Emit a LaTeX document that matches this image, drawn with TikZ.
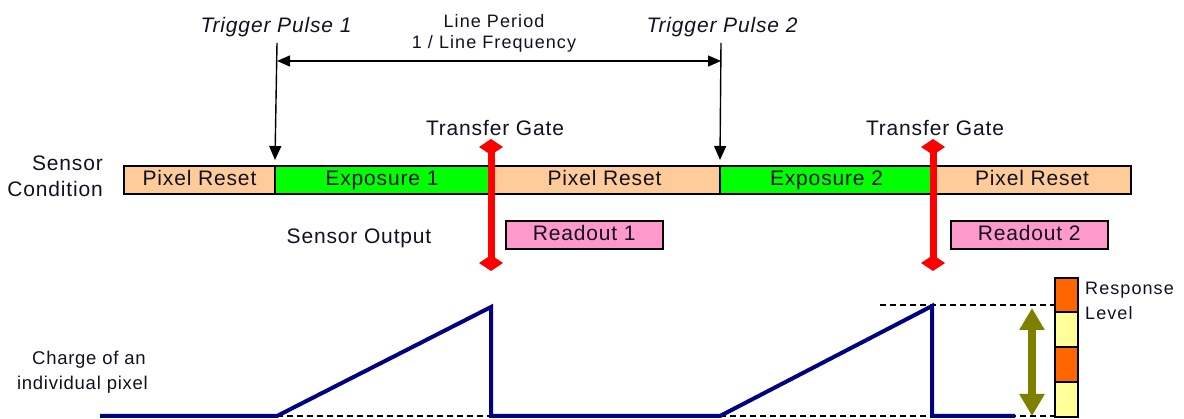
\documentclass[tikz,border=0pt]{standalone}
\usepackage{fontspec}
\setmainfont{Liberation Sans}
\newfontfamily\labelfont{Liberation Sans}[LetterSpace=4]
\newfontfamily\notefont{Liberation Sans}[LetterSpace=6]
\usetikzlibrary{arrows.meta}
\definecolor{peach}{HTML}{FFCC99}
\definecolor{expgreen}{HTML}{00FF00}
\definecolor{pinkbox}{HTML}{FF99CC}
\definecolor{gatered}{HTML}{FF0000}
\definecolor{chargeblue}{HTML}{000080}
\definecolor{olivearrow}{HTML}{808000}
\definecolor{lvlorange}{HTML}{FF6600}
\definecolor{lvlyellow}{HTML}{FFFF99}
\definecolor{ink}{HTML}{111122}
\begin{document}
\begin{tikzpicture}[x=1pt,y=-1pt,
  every node/.style={text=ink, font=\labelfont\fontsize{21}{24}\selectfont},
  seg/.style={draw=black, line width=1.6pt, inner sep=0pt, outer sep=0pt,
    minimum height=28pt, text height=15pt, text depth=3pt, anchor=north west},
  readbox/.style={draw=black, line width=1.6pt, fill=pinkbox, inner sep=0pt,
    minimum height=28pt, minimum width=157pt, text height=15pt, text depth=3pt,
    anchor=north west},
  label/.style={inner sep=0pt},
  smalllabel/.style={inner sep=0pt, font=\notefont\fontsize{18}{20}\selectfont},
  trig/.style={line width=1.4pt, -{Triangle[length=14pt,width=12pt]}},
  period/.style={line width=1.4pt, {Triangle[length=13pt,width=11pt]}-{Triangle[length=13pt,width=11pt]}},
  gate/.style={draw=gatered, line width=7pt,
    {Kite[length=16pt,width=24pt,inset=8pt]}-{Kite[length=16pt,width=24pt,inset=8pt]}},
  charge/.style={draw=chargeblue, line width=4pt, line join=miter},
  guide/.style={draw=black, line width=1.2pt, dash pattern=on 6pt off 4pt},
  span/.style={draw=olivearrow, line width=8pt,
    {Triangle[length=22pt,width=24pt]}-{Triangle[length=22pt,width=24pt]}},
  level/.style={draw=black, line width=2pt, inner sep=0pt, outer sep=0pt,
    minimum width=23pt, anchor=north west}]
\useasboundingbox (0,0) rectangle (1184,419);

% sensor condition bar
\node[seg, fill=peach, minimum width=151pt] (reset1) at (124,166) {Pixel Reset};
\node[seg, fill=expgreen, minimum width=214pt] (exp1) at (275,166) {Exposure 1};
\node[seg, fill=peach, minimum width=231pt] (reset2) at (489,166) {Pixel Reset};
\node[seg, fill=expgreen, minimum width=213pt] (exp2) at (720,166) {Exposure 2};
\node[seg, fill=peach, minimum width=198pt] (reset3) at (933,166) {Pixel Reset};

\node[label, anchor=east] (sens) at (103,163) {Sensor};
\node[label, anchor=east] (cond) at (103,189) {Condition};

% trigger pulses and line period
\node[label, font=\labelfont\fontsize{21}{24}\selectfont\itshape] (tp1) at (276,27) {Trigger Pulse 1};
\node[label, font=\labelfont\fontsize{21}{24}\selectfont\itshape] (tp2) at (722,27) {Trigger Pulse 2};
\node[smalllabel] (lp) at (494,21) {Line Period};
\node[smalllabel] (lf) at (494,44) {1 / Line Frequency};

\coordinate (t1top) at (277,43);
\coordinate (t2top) at (721,43);
\coordinate (p1) at (277,61);
\coordinate (p2) at (721,61);
\draw[trig] (t1top) -- (reset1.north east |- 0,160);
\draw[trig] (t2top) -- (exp2.north west |- 0,160);
\draw[period] (p1) -- (p2);

% transfer gates
\node[label] (tg1) at (495,128) {Transfer Gate};
\node[label] (tg2) at (935,128) {Transfer Gate};
\coordinate (g1a) at (491,139);
\coordinate (g1b) at (491,271);
\coordinate (g2a) at (933,139);
\coordinate (g2b) at (933,271);
\draw[gate] (g1a) -- (g1b);
\draw[gate] (g2a) -- (g2b);

% sensor output
\node[label] (so) at (359,238) {Sensor Output};
\node[readbox] (ro1) at (505,220) {Readout 1};
\node[readbox] (ro2) at (950,220) {Readout 2};

% charge of an individual pixel
\node[label, anchor=east, font=\labelfont\fontsize{18.5}{22}\selectfont] (ch1) at (146,360) {Charge of an};
\node[label, anchor=east, font=\labelfont\fontsize{18.5}{22}\selectfont] (ch2) at (148,385) {individual pixel};

\coordinate (c0) at (100,416);
\coordinate (c1) at (277,416);
\coordinate (c2) at (491,307);
\coordinate (c3) at (491,416);
\coordinate (c4) at (720,416);
\coordinate (c5) at (932,306);
\coordinate (c6) at (932,416);
\coordinate (c7) at (1015,416);
\coordinate (d1) at (1055,416);
\coordinate (d2) at (880,305);
\coordinate (d3) at (1055,305);

\draw[guide] (c1) -- (c3);
\draw[guide] (c4) -- (d1);
\draw[guide] (d2) -- (d3);
\draw[charge] (c0) -- (c1) -- (c2) -- (c3) -- (c4) -- (c5) -- (c6) -- (c7);

% response level
\coordinate (s1) at (1032,308);
\coordinate (s2) at (1032,416);
\draw[span] (s1) -- (s2);
\node[level, fill=lvlorange, minimum height=34pt] (lv1) at (1055,278) {};
\node[level, fill=lvlyellow, minimum height=35pt] (lv2) at (1055,312) {};
\node[level, fill=lvlorange, minimum height=35pt] (lv3) at (1055,347) {};
\node[level, fill=lvlyellow, minimum height=35pt] (lv4) at (1055,382) {};
\node[smalllabel, anchor=west] (rl1) at (1085,290) {Response};
\node[smalllabel, anchor=west] (rl2) at (1085,313) {Level};
\end{tikzpicture}
\end{document}
